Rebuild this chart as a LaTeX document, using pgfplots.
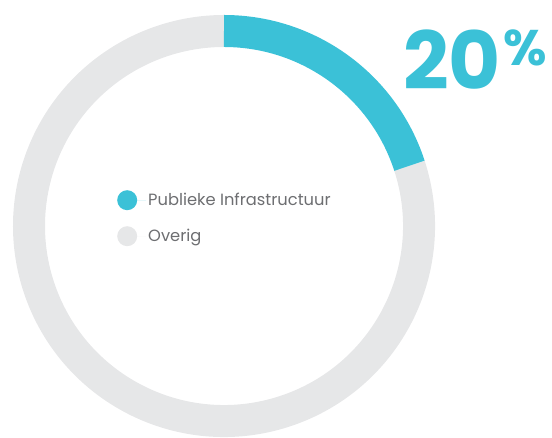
\documentclass[border=0pt]{standalone}
\usepackage{pgfplots}
\pgfplotsset{compat=1.18}
\usepackage{fontspec}
\setmainfont{Poppins}
\definecolor{tealc}{HTML}{3BC1D7}
\definecolor{grayc}{HTML}{E6E7E8}
\definecolor{txt}{HTML}{6D6E71}
\begin{document}
\begin{tikzpicture}
\def\valA{20}\def\valB{80}
\begin{axis}[width=552pt,height=438pt,scale only axis,
  xmin=0,xmax=552,ymin=0,ymax=438,hide axis,clip=false,
  legend style={at={(axis cs:117,248)},anchor=north west,draw=none,fill=none,
    font=\fontsize{16.3}{17}\selectfont\color{txt},row sep=16pt,inner sep=0pt},
  legend cell align=left,
  legend image code/.code={\fill (0pt,0pt) circle (10pt);\path (10pt,0pt) -- (19pt,0pt);}]
\addlegendimage{fill=tealc,draw=none}
\addlegendentry{Publieke Infrastructuur}
\addlegendimage{fill=grayc,draw=none}
\addlegendentry{Overig}
\pgfmathsetmacro\angA{90-360*\valA/100}
\draw[grayc,line width=32pt] (axis cs:224,212) ++(\angA:195pt) arc[start angle=\angA,end angle=-270,radius=195pt];
\draw[tealc,line width=32pt] (axis cs:224,212) ++(90:195pt) arc[start angle=90,end angle=\angA,radius=195pt];
\node[anchor=base west,inner sep=0pt,text=tealc,font=\fontsize{80}{80}\selectfont\bfseries] at (axis cs:403,348) {20\hspace{2pt}\raisebox{24pt}{\fontsize{50}{50}\selectfont\%}};
\end{axis}
\pgfresetboundingbox
\path (current axis.south west) rectangle (current axis.north east);
\end{tikzpicture}
\end{document}
